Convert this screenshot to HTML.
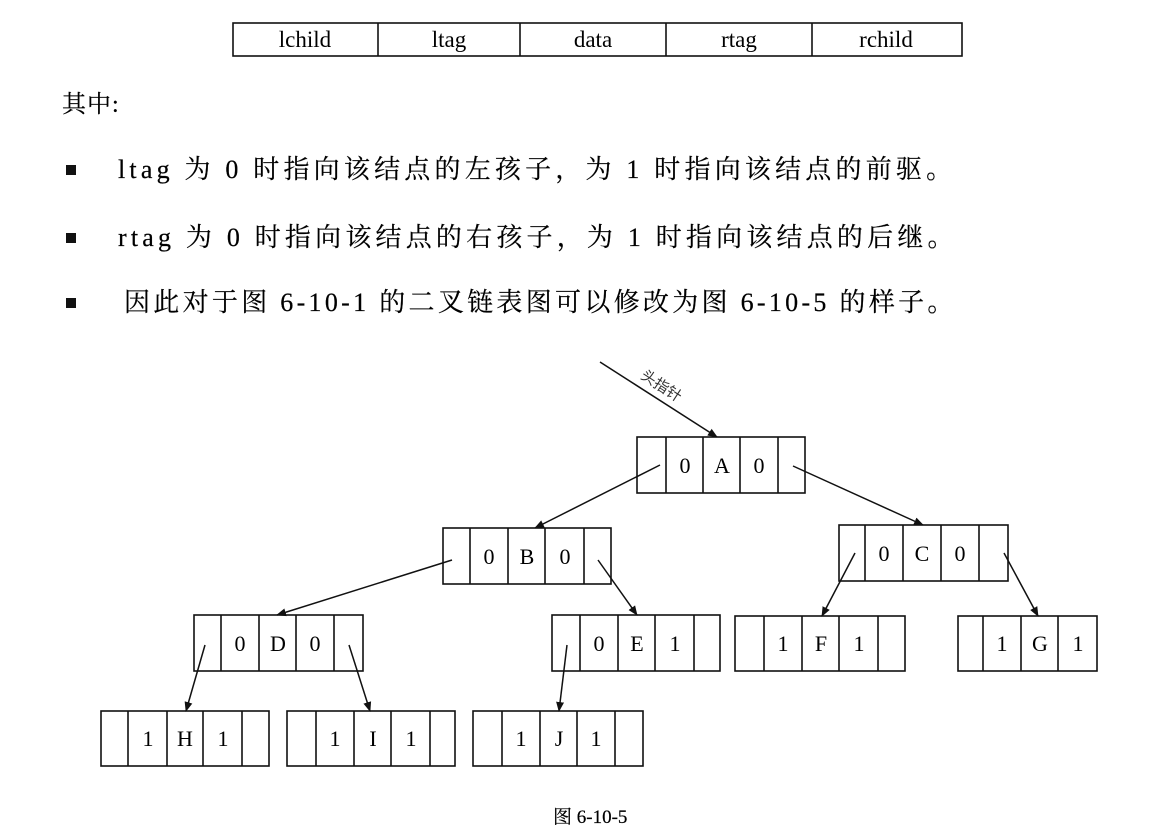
<!DOCTYPE html>
<html><head><meta charset="utf-8"><style>
body{margin:0;width:1166px;height:839px;background:#fff;overflow:hidden;position:relative;font-family:"Liberation Serif","Noto Serif CJK SC",serif;color:#000}
.t{position:absolute;font-size:26px;white-space:nowrap;letter-spacing:4.2px;-webkit-text-stroke:0.2px #000}
.b{position:absolute;width:10px;height:10px;background:#111;left:66px}
</style></head><body>
<div class="t" style="left:62px;top:84px;letter-spacing:1px;font-size:24px">其中:</div>
<div class="b" style="top:165px"></div>
<div class="t" style="left:118px;top:149px">ltag 为 0 时指向该结点的左孩子，为 1 时指向该结点的前驱。</div>
<div class="b" style="top:233px"></div>
<div class="t" style="left:118px;top:217px">rtag 为 0 时指向该结点的右孩子，为 1 时指向该结点的后继。</div>
<div class="b" style="top:298px"></div>
<div class="t" style="left:124px;top:282px;letter-spacing:3.3px">因此对于图 6-10-1 的二叉链表图可以修改为图 6-10-5 的样子。</div>
<div class="t" style="left:553px;top:802px;font-size:19px;letter-spacing:0">图 6-10-5</div>
<svg width="1166" height="839" style="position:absolute;left:0;top:0" font-family="Liberation Serif, serif" font-size="22" text-anchor="middle">
<defs><marker id="a" markerWidth="10" markerHeight="10" refX="9" refY="5" orient="auto" markerUnits="userSpaceOnUse"><path d="M0,1 L10,5 L0,9z" fill="#111"/></marker></defs>
<g stroke="#111" stroke-width="1.6" fill="none">
<rect x="233" y="23" width="729" height="33"/>
<line x1="378" y1="23" x2="378" y2="56"/><line x1="520" y1="23" x2="520" y2="56"/><line x1="666" y1="23" x2="666" y2="56"/><line x1="812" y1="23" x2="812" y2="56"/>
</g>
<g font-size="23"><text x="305" y="47">lchild</text><text x="449" y="47">ltag</text><text x="593" y="47">data</text><text x="739" y="47">rtag</text><text x="886" y="47">rchild</text></g>
<g stroke="#111" stroke-width="1.6" fill="none">
<rect x="637" y="437" width="168" height="56"/><path d="M666 437V493M703 437V493M740 437V493M778 437V493"/>
<rect x="443" y="528" width="168" height="56"/><path d="M470 528V584M508 528V584M545 528V584M584 528V584"/>
<rect x="839" y="525" width="169" height="56"/><path d="M865 525V581M903 525V581M941 525V581M979 525V581"/>
<rect x="194" y="615" width="169" height="56"/><path d="M221 615V671M259 615V671M296 615V671M334 615V671"/>
<rect x="552" y="615" width="168" height="56"/><path d="M580 615V671M618 615V671M655 615V671M694 615V671"/>
<rect x="735" y="616" width="170" height="55"/><path d="M764 616V671M802 616V671M839 616V671M878 616V671"/>
<rect x="958" y="616" width="139" height="55"/><path d="M983 616V671M1021 616V671M1058 616V671"/>
<rect x="101" y="711" width="168" height="55"/><path d="M128 711V766M167 711V766M203 711V766M242 711V766"/>
<rect x="287" y="711" width="168" height="55"/><path d="M316 711V766M354 711V766M391 711V766M430 711V766"/>
<rect x="473" y="711" width="170" height="55"/><path d="M502 711V766M540 711V766M577 711V766M615 711V766"/>
</g>
<g stroke="#111" stroke-width="1.5" marker-end="url(#a)">
<line x1="600" y1="362" x2="717" y2="437"/>
<line x1="660" y1="465" x2="535" y2="528"/>
<line x1="793" y1="466" x2="923" y2="525"/>
<line x1="452" y1="560" x2="277" y2="615"/>
<line x1="598" y1="560" x2="637" y2="615"/>
<line x1="855" y1="553" x2="822" y2="616"/>
<line x1="1004" y1="553" x2="1038" y2="616"/>
<line x1="205" y1="645" x2="186" y2="711"/>
<line x1="349" y1="645" x2="370" y2="711"/>
<line x1="567" y1="645" x2="559" y2="711"/>
</g>
<rect x="632" y="376" width="60" height="18" fill="#fff" transform="rotate(33 662 385)"/>
<text x="662" y="391" font-size="15" font-family="Noto Sans CJK SC, sans-serif" fill="#333" transform="rotate(33 662 385)">头指针</text>
<g>
<text x="685" y="473">0</text><text x="722" y="473">A</text><text x="759" y="473">0</text>
<text x="489" y="564">0</text><text x="527" y="564">B</text><text x="565" y="564">0</text>
<text x="884" y="561">0</text><text x="922" y="561">C</text><text x="960" y="561">0</text>
<text x="240" y="651">0</text><text x="278" y="651">D</text><text x="315" y="651">0</text>
<text x="599" y="651">0</text><text x="637" y="651">E</text><text x="675" y="651">1</text>
<text x="783" y="651">1</text><text x="821" y="651">F</text><text x="859" y="651">1</text>
<text x="1002" y="651">1</text><text x="1040" y="651">G</text><text x="1078" y="651">1</text>
<text x="148" y="746">1</text><text x="185" y="746">H</text><text x="223" y="746">1</text>
<text x="335" y="746">1</text><text x="373" y="746">I</text><text x="411" y="746">1</text>
<text x="521" y="746">1</text><text x="559" y="746">J</text><text x="596" y="746">1</text>
</g>
</svg>
</body></html>
